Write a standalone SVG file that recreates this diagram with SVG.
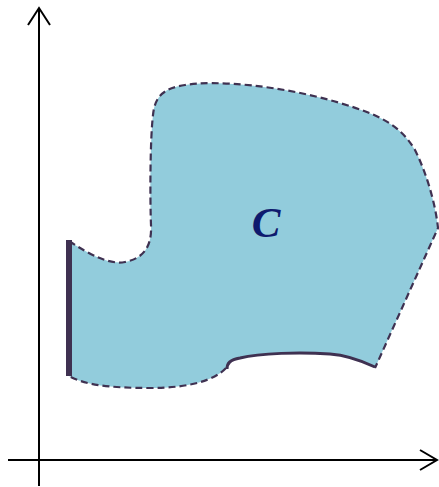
<svg xmlns="http://www.w3.org/2000/svg" width="439" height="487" viewBox="0 0 439 487">
<style>
.axis{stroke:#000;stroke-width:2;fill:none}
.dash{stroke:#3F3151;stroke-width:2.2;stroke-dasharray:7 4;fill:none}
.solid{stroke:#3F3151;fill:none;stroke-linecap:butt}
</style>
<rect width="439" height="487" fill="#fff"/>
<g id="axes">
<line class="axis" x1="39" y1="8" x2="39" y2="486"/>
<polyline class="axis" points="28,25 39,8 50,25"/>
<line class="axis" x1="8" y1="460" x2="437" y2="460"/>
<polyline class="axis" points="420,450 437,460 420,470"/>
</g>
<g id="region">
<path fill="#92CCDC" d="M69,241 C90,255 110,265 125,262 C145,258 152,245 151,225 C150,200 150,140 153,115 C155,95 165,88 185,85 C215,80 280,85 340,103 C380,115 400,125 415,150 C425,170 435,200 438,228 L375,368 C360,360 345,355 330,354 C300,352 260,353 240,358 C230,360 227,363 226,368 C215,380 190,388 150,388 C110,388 85,385 69,376 Z"/>
<path class="dash" d="M69,241 C90,255 110,265 125,262 C145,258 152,245 151,225 C150,200 150,140 153,115 C155,95 165,88 185,85 C215,80 280,85 340,103 C380,115 400,125 415,150 C425,170 435,200 438,228 L375,368"/>
<path class="dash" d="M226,368 C215,380 190,388 150,388 C110,388 85,385 69,376"/>
<line class="solid" x1="69" y1="240" x2="69" y2="376" stroke-width="6"/>
<path class="solid" stroke-width="3" d="M375,367 C360,360 345,355 330,354 C300,352 260,353 240,358 C230,360 227,363 227,369"/>
<text x="266" y="237" font-family="'Liberation Serif', serif" font-weight="bold" font-style="italic" font-size="43" fill="#0E1A6E" text-anchor="middle">C</text>
</g>
</svg>
